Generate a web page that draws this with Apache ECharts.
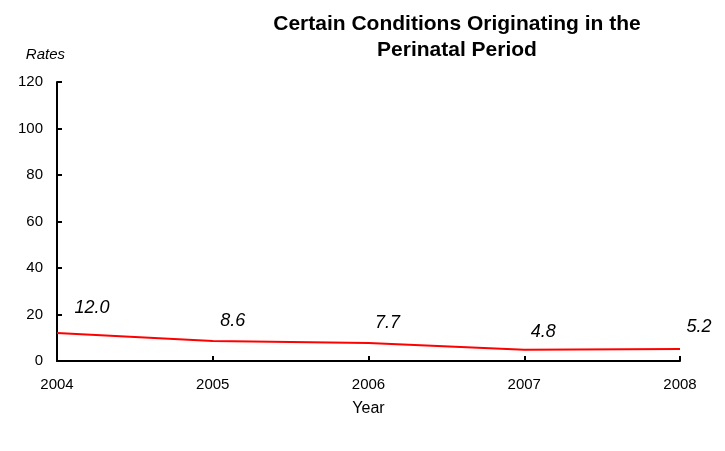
<!DOCTYPE html>
<html><head><meta charset="utf-8">
<script src="https://cdn.jsdelivr.net/npm/echarts@6/dist/echarts.min.js"></script>
<style>html,body{margin:0;padding:0;background:#fff}#c{width:725px;height:451px}</style>
</head><body><div id="c"></div>
<script>
const years = ['2004','2005','2006','2007','2008'];
const rates = [12.0, 8.6, 7.7, 4.8, 5.2];
const yTicks = [0, 20, 40, 60, 80, 100, 120];

const labelOffsets = [[35,-25],[20,-20],[19,-20],[19,-18],[19,-22]];
const FONT = 'Liberation Sans, Arial, sans-serif';
const chart = echarts.init(document.getElementById('c'));
chart.setOption({
  animation: false,
  backgroundColor: '#fff',
  title: {
    text: 'Certain Conditions Originating in the\nPerinatal Period',
    left: 452, top: 6, textAlign: 'center',
    textStyle: {fontFamily: FONT, fontWeight: 'bold', fontSize: 21, color: '#000', lineHeight: 26}
  },
  grid: {left: 57, right: 45, top: 82, bottom: 90},
  xAxis: {
    type: 'category', data: years, boundaryGap: false,
    name: 'Year', nameLocation: 'middle', nameGap: 40,
    nameTextStyle: {fontFamily: FONT, fontSize: 16, color: '#000'},
    axisLine: {lineStyle: {color: '#000', width: 2}},
    axisTick: {inside: true, length: 5, lineStyle: {color: '#000', width: 2}},
    axisLabel: {fontFamily: FONT, fontSize: 15, color: '#000', margin: 16}
  },
  yAxis: {
    type: 'value', min: yTicks[0], max: yTicks[yTicks.length-1], interval: 20,
    name: 'Rates', nameLocation: 'end', nameGap: 20,
    nameTextStyle: {fontFamily: FONT, fontSize: 15, fontStyle: 'italic', color: '#000', align: 'right', padding: [0, -8, 0, 0]},
    splitLine: {show: false},
    axisLine: {show: true, lineStyle: {color: '#000', width: 2}},
    axisTick: {show: true, inside: true, length: 5, lineStyle: {color: '#000', width: 2}},
    axisLabel: {fontFamily: FONT, fontSize: 15, color: '#000', margin: 14}
  },
  series: [{
    type: 'line', showSymbol: true, symbol: 'circle', symbolSize: 0,
    lineStyle: {color: '#ff0000', width: 2},
    itemStyle: {color: '#ff0000'},
    data: rates.map((v, i) => ({
      value: v,
      label: {show: true, position: 'inside', offset: labelOffsets[i],
        formatter: (p) => p.value.toFixed(1),
        fontFamily: FONT, fontSize: 18, fontStyle: 'italic', color: '#000'}
    }))
  }]
});
</script></body></html>
